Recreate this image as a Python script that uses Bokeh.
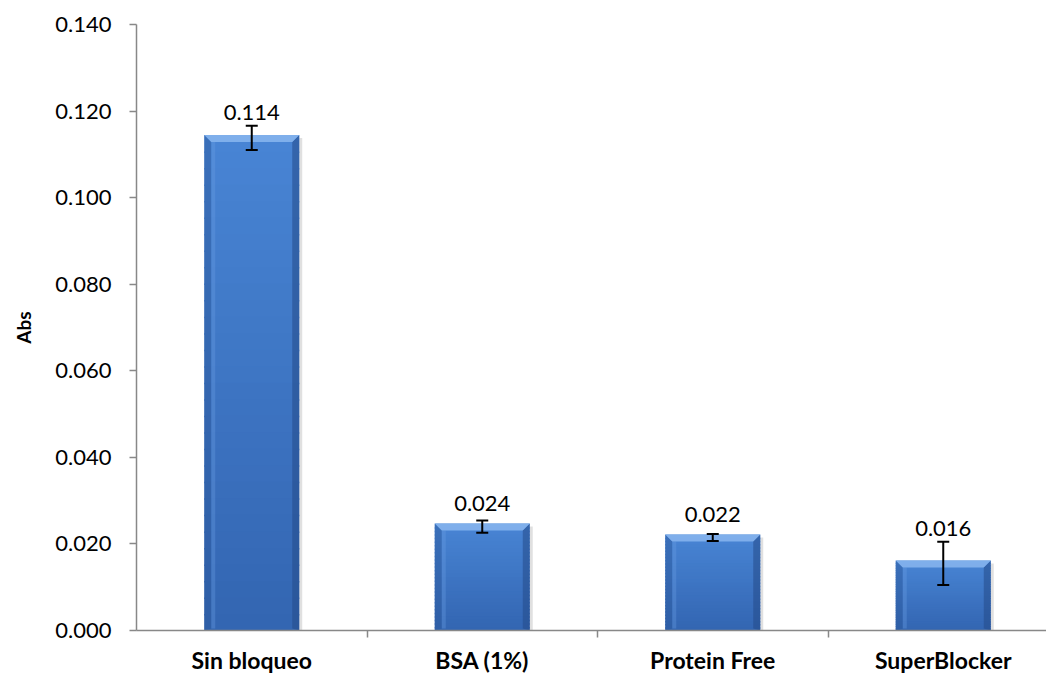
from bokeh.plotting import figure
from bokeh.models import Range1d, FixedTicker, Whisker, ColumnDataSource, TeeHead, NumeralTickFormatter
from bokeh.core.properties import value
from bokeh.embed import file_html
from bokeh.resources import INLINE

# ---- data ----
categories = ["Sin bloqueo", "BSA (1%)", "Protein Free", "SuperBlocker"]
abs_values = [0.1138, 0.0240, 0.0215, 0.0155]
abs_errors = [0.0028, 0.0014, 0.0008, 0.0050]
value_labels = ["0.114", "0.024", "0.022", "0.016"]
y_ticks = [0.0, 0.02, 0.04, 0.06, 0.08, 0.10, 0.12, 0.14]

FONT = "Lato"
FRAME_L, FRAME_T = 136, 24
frame_w, frame_h = 910, 606
cat_px = 230.5
x_end = frame_w / cat_px

p = figure(frame_width=frame_w, frame_height=frame_h, output_backend="svg", toolbar_location=None,
           x_range=Range1d(0, x_end), y_range=Range1d(0, 0.14),
           min_border_left=FRAME_L, min_border_right=0, min_border_top=FRAME_T,
           min_border_bottom=0)
p.outline_line_color = None
p.xgrid.visible = False
p.ygrid.visible = False
p.background_fill_color = "white"
p.border_fill_color = "white"

# pixel -> data conversions
px_x = x_end / frame_w
px_y = 0.14 / frame_h

n = len(categories)
centers = [i + 0.5 for i in range(n)]
bw = 95 * px_x
lift = 3 * px_y  # bevelled top sits slightly above the value

# shadow
p.quad(left=[c + bw / 2 for c in centers], right=[c + bw / 2 + 3 * px_x for c in centers],
       bottom=[0] * n, top=[v for v in abs_values],
       fill_color="#000000", fill_alpha=0.12, line_color=None)

# main bars with vertical gradient (light top -> darker bottom)
top_rgb = (0x48, 0x84, 0xd4)
bot_rgb = (0x33, 0x66, 0xb2)
nb = 30
L, R, B, T, C = [], [], [], [], []
for c, v in zip(centers, abs_values):
    vt = v + lift
    for k in range(nb):
        f = k / (nb - 1)
        col = tuple(int(round(top_rgb[j] * (1 - f) + bot_rgb[j] * f)) for j in range(3))
        L.append(c - bw / 2); R.append(c + bw / 2)
        T.append(vt - vt * k / nb); B.append(max(0.0, vt - vt * (k + 1) / nb - 1.5 * px_y))
        C.append("#%02x%02x%02x" % col)
p.quad(left=L, right=R, bottom=B, top=T, fill_color=C, line_color=None)

# bevel edges
ex, ey = 7 * px_x, 7 * px_y
lx, ly, rx, ry, tx, ty, hx, hy = [], [], [], [], [], [], [], []
for c, v in zip(centers, abs_values):
    vt = v + lift
    x0, x1 = c - bw / 2, c + bw / 2
    lx.append([x0, x0 + ex, x0 + ex, x0]); ly.append([vt, vt - ey, 2 * px_y, 0])
    rx.append([x1, x1 - ex, x1 - ex, x1]); ry.append([vt, vt - ey, 2 * px_y, 0])
    tx.append([x0, x1, x1 - ex, x0 + ex]); ty.append([vt, vt, vt - ey, vt - ey])
    hx.append([x0 + ex, x0 + ex + 4 * px_x, x0 + ex + 4 * px_x, x0 + ex])
    hy.append([vt - ey, vt - ey, 2 * px_y, 2 * px_y])
p.patches(lx, ly, fill_color="#2a5698", fill_alpha=0.45, line_color=None)
p.patches(rx, ry, fill_color="#244b88", fill_alpha=0.55, line_color=None)
p.patches(hx, hy, fill_color="#6b9fe2", fill_alpha=0.35, line_color=None)
p.patches(tx, ty, fill_color="#8ab6ee", fill_alpha=0.85, line_color=None)

# error bars
src = ColumnDataSource(dict(x=centers,
                            upper=[v + e for v, e in zip(abs_values, abs_errors)],
                            lower=[v - e for v, e in zip(abs_values, abs_errors)]))
wh = Whisker(base="x", upper="upper", lower="lower", source=src,
             line_color="black", line_width=2, level="overlay",
             upper_head=TeeHead(size=12, line_color="black", line_width=2),
             lower_head=TeeHead(size=12, line_color="black", line_width=2))
p.add_layout(wh)

# value labels
label_y = [max(v + 23 * px_y, v + e + 13 * px_y) for v, e in zip(abs_values, abs_errors)]
p.text(x=centers, y=label_y, text=value_labels, text_font=value(FONT), text_font_size="22px",
       text_align="center", text_baseline="alphabetic", text_color="black")

# axes
ya = p.yaxis[0]
ya.ticker = FixedTicker(ticks=y_ticks)
ya.formatter = NumeralTickFormatter(format="0.000")
ya.axis_line_color = "#888888"
ya.axis_line_width = 1.5
ya.major_tick_line_color = "#888888"
ya.major_tick_line_width = 1.5
ya.major_tick_out = 7
ya.major_tick_in = 0
ya.minor_tick_line_color = None
ya.major_label_text_font = FONT
ya.major_label_text_font_size = "22px"
ya.major_label_text_color = "black"
ya.major_label_standoff = 18
ya.axis_label = "Abs"
ya.axis_label_text_font = FONT
ya.axis_label_text_font_style = "bold"
ya.axis_label_text_font_size = "19px"
ya.axis_label_text_color = "black"
ya.axis_label_standoff = 17

xa = p.xaxis[0]
xa.ticker = FixedTicker(ticks=centers, minor_ticks=[i + 1 for i in range(n)])
xa.major_label_overrides = {c: name for c, name in zip(centers, categories)}
xa.axis_line_color = "#888888"
xa.axis_line_width = 1.5
xa.major_tick_line_color = None
xa.major_tick_out = 0
xa.major_tick_in = 0
xa.minor_tick_line_color = "#888888"
xa.minor_tick_line_width = 1.5
xa.minor_tick_out = 7
xa.minor_tick_in = 0
xa.major_label_text_font = FONT
xa.major_label_text_font_style = "bold"
xa.major_label_text_font_size = "23px"
xa.major_label_text_color = "black"
xa.major_label_standoff = 8

open("out.html", "w").write(file_html(p, INLINE))
